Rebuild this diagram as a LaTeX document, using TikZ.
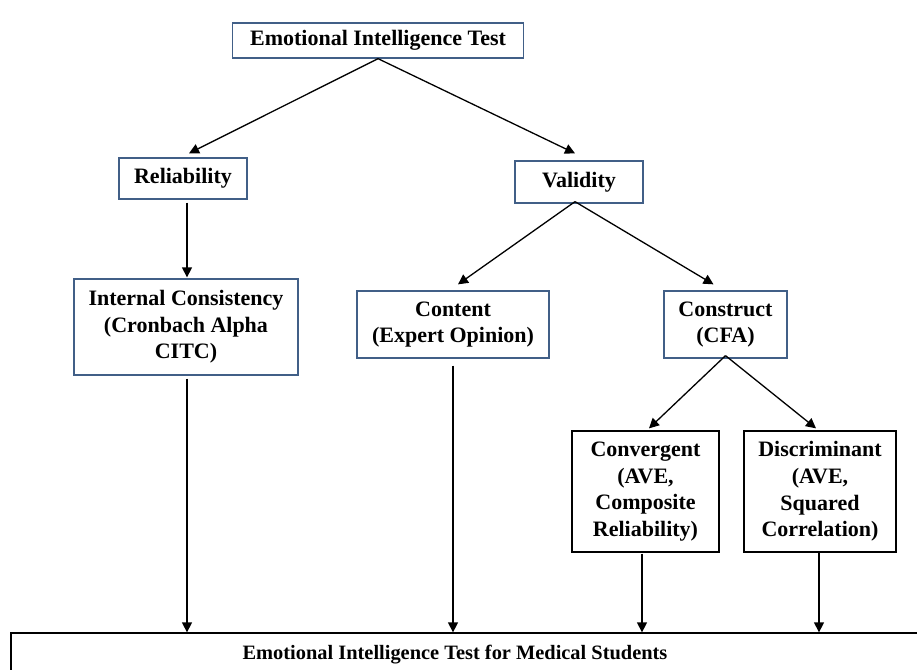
\documentclass[tikz,border=0pt]{standalone}
\usepackage{fontspec}
\setmainfont{Liberation Serif}
\usetikzlibrary{arrows.meta}
\definecolor{boxblue}{RGB}{65,95,135}
\tikzset{
  box/.style={draw=boxblue, line width=1.3pt, fill=white, align=center, inner sep=0pt,
    font=\fontsize{22}{26.7}\selectfont\bfseries},
  blackbox/.style={box, draw=black},
  arr/.style={line width=1.3pt, -{Triangle[length=10pt,width=10pt]}},
}
\begin{document}
\begin{tikzpicture}[x=1pt,y=-1pt]
\useasboundingbox (0,0) rectangle (917,669);
\clip (0,0) rectangle (917,669);
\fill[white] (0,0) rectangle (917,669);
\node[box, minimum width=291pt, minimum height=35pt] (top) at (378,40.5) {Emotional Intelligence Test};
\node[box, minimum width=128pt, minimum height=41pt] (rel) at (183,178.5) {Reliability};
\node[box, minimum width=128pt, minimum height=42pt] (val) at (579,182) {Validity};
\node[box, minimum width=224pt, minimum height=96pt] (ic) at (186,327) {Internal Consistency\\(Cronbach Alpha\\CITC)};
\node[box, minimum width=192pt, minimum height=67pt] (con) at (453,324.5) {Content\\(Expert Opinion)};
\node[box, minimum width=123pt, minimum height=67pt] (cst) at (725.5,324.5) {Construct\\(CFA)};
\node[blackbox, minimum width=147pt, minimum height=121pt] (conv) at (645.5,491.5) {Convergent\\(AVE,\\Composite\\Reliability)};
\node[blackbox, minimum width=152pt, minimum height=121pt] (disc) at (820,491.5) {Discriminant\\(AVE,\\Squared\\Correlation)};
\node[blackbox, minimum width=914pt, minimum height=52pt] (bot) at (468,659) {};
\node[font=\fontsize{20.4}{24}\selectfont\bfseries, inner sep=0pt] (bottxt) at (455,655) {Emotional Intelligence Test for Medical Students};
% connectors
\draw[arr] (top.south) -- ([xshift=6pt,yshift=4pt]rel.north);
\draw[arr] (top.south) -- ([xshift=-4pt,yshift=7pt]val.north);
\draw[arr] ([xshift=4pt,yshift=-3pt]rel.south) -- ([xshift=1pt,yshift=1pt]ic.north);
\draw[arr] ([xshift=1pt,yshift=-3pt]ic.south) -- ([xshift=1pt]ic.south |- bot.north);
\draw[arr] ([xshift=-4pt,yshift=2pt]val.south) -- ([xshift=5pt,yshift=6pt]con.north);
\draw[arr] ([xshift=-4pt,yshift=2pt]val.south) -- ([xshift=-12pt,yshift=6pt]cst.north);
\draw[arr] ([yshift=-7pt]con.south) -- (con.south |- bot.north);
\draw[arr] ([yshift=3pt]cst.south) -- ([xshift=3.5pt,yshift=2pt]conv.north);
\draw[arr] ([yshift=3pt]cst.south) -- ([xshift=-4pt,yshift=2pt]disc.north);
\draw[arr] ([xshift=-3.5pt,yshift=-1pt]conv.south) -- ([xshift=-3.5pt]conv.south |- bot.north);
\draw[arr] ([xshift=-1pt]disc.south) -- ([xshift=-1pt]disc.south |- bot.north);
\end{tikzpicture}
\end{document}
